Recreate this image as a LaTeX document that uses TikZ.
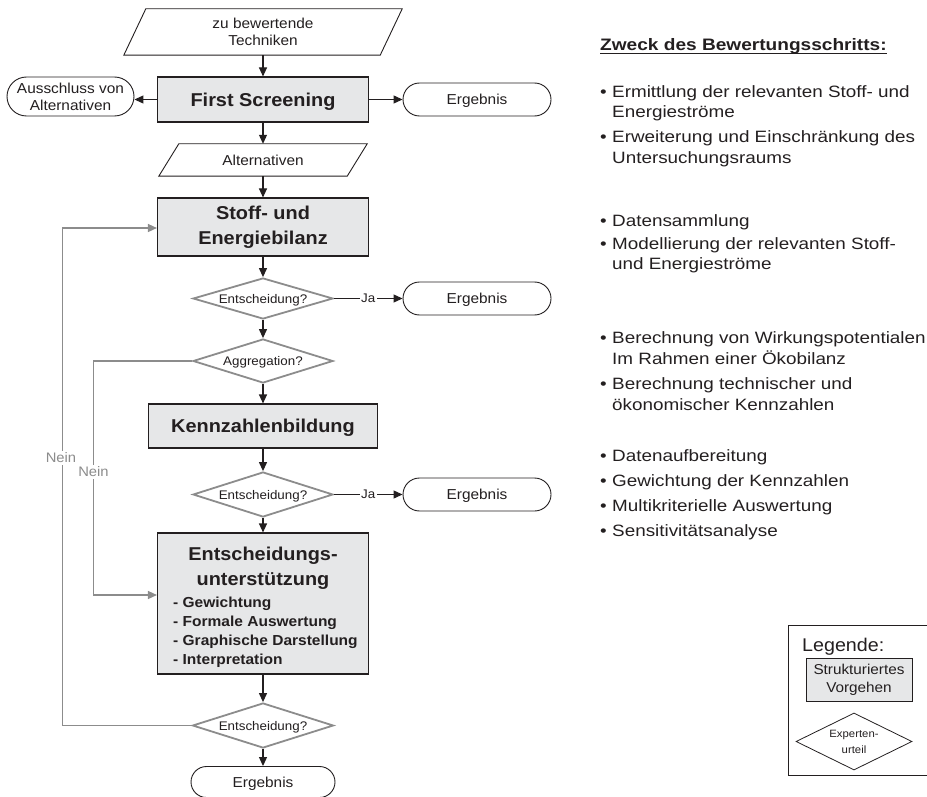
\documentclass[tikz,border=0pt]{standalone}
\usepackage{fontspec}
\setmainfont{Liberation Sans}[FakeStretch=1.07]
\newfontfamily\rtfont{Liberation Sans}[FakeStretch=1.15]
\usetikzlibrary{arrows.meta,shapes.geometric}
\definecolor{boxgray}{HTML}{E6E7E8}
\definecolor{linegray}{HTML}{8C8C8C}
\definecolor{txt}{HTML}{231F20}
\newcommand{\blt}{\makebox[12pt][l]{•}}
\begin{document}
\begin{tikzpicture}[x=1pt,y=-1pt,
  every node/.style={text=txt, inner sep=0pt},
  proc/.style={draw=txt, line width=1.1pt, fill=boxgray, font=\fontsize{18.6}{25}\selectfont\bfseries, align=center},
  term/.style={draw=txt, line width=0.9pt, fill=white, font=\fontsize{14.4}{17}\selectfont},
  erg/.style={term, rounded corners=16.5pt, minimum width=148pt, minimum height=33pt, text height=10.3pt, text depth=0pt},
  dec/.style={diamond, aspect=3.4, draw=linegray, line width=1.8pt, fill=white, minimum width=140pt, font=\fontsize{12.5}{14}\selectfont, text height=9pt, text depth=0pt},
  io/.style={font=\fontsize{14.4}{16.5}\selectfont},
  iopath/.style={draw=txt, line width=0.9pt},
  arr/.style={draw=txt, line width=1.1pt, -{Triangle[length=9pt,width=8pt]}},
  garr/.style={draw=linegray, line width=1.4pt, -{Triangle[length=9pt,width=8pt]}},
  lab/.style={fill=white, font=\fontsize{12.5}{14}\selectfont, inner sep=1.5pt},
  nein/.style={fill=white, text=linegray, font=\fontsize{13.8}{15}\selectfont, inner sep=1.5pt},
  rt/.style={anchor=base west, font=\rtfont\fontsize{16.4}{20}\selectfont},
  entl/.style={anchor=base west, font=\fontsize{14.5}{19}\selectfont\bfseries},
  entt/.style={anchor=base, font=\fontsize{18.6}{25}\selectfont\bfseries},
]
\useasboundingbox (0,0) rectangle (927,797);

% --- main column ---
\node[io, align=center, minimum width=256pt, minimum height=46pt] (tech) at (263,32) {zu bewertende\\Techniken};
\draw[iopath] ([xshift=-11pt]tech.south west) -- ([xshift=-11pt]tech.south east) -- ([xshift=11pt]tech.north east) -- ([xshift=11pt]tech.north west) -- cycle;

\node[proc, minimum width=211pt, minimum height=45pt, text height=13.3pt, text depth=0pt] (fs) at (263,99.5) {First Screening};
\node[term, align=center, rounded corners=19.5pt, minimum width=127pt, minimum height=39pt] (aus) at (70.5,96.5) {Ausschluss von\\Alternativen};
\node[erg] (e1) at (477,99.5) {Ergebnis};

\node[io, minimum width=188pt, minimum height=32pt, text height=10.3pt, text depth=0pt] (alt) at (263,160) {Alternativen};
\draw[iopath] ([xshift=-10pt]alt.south west) -- ([xshift=-10pt]alt.south east) -- ([xshift=10pt]alt.north east) -- ([xshift=10pt]alt.north west) -- cycle;

\node[proc, minimum width=211pt, minimum height=58pt] (stoff) at (263,227) {Stoff- und\\Energiebilanz};
\node[dec, minimum height=41pt] (d1) at (263,298.5) {Entscheidung?};
\node[erg] (e2) at (477,298.5) {Ergebnis};
\node[dec, minimum height=44pt] (agg) at (263,361) {Aggregation?};
\node[proc, minimum width=229pt, minimum height=44pt, text height=13.3pt, text depth=0pt] (kenn) at (263,426) {Kennzahlenbildung};
\node[dec, minimum height=45pt] (d2) at (263,494.5) {Entscheidung?};
\node[erg] (e3) at (477,494.5) {Ergebnis};

\node[proc, minimum width=211pt, minimum height=141pt] (ent) at (263,603.5) {};
\node[entt] (ent-t1) at (263,560.5) {Entscheidungs-};
\node[entt] (ent-t2) at (263,585.5) {unterstützung};
\node[entl] (ent-1) at (173,607) {- Gewichtung};
\node[entl] (ent-2) at (173,626) {- Formale Auswertung};
\node[entl] (ent-3) at (173,645) {- Graphische Darstellung};
\node[entl] (ent-4) at (173,664) {- Interpretation};

\node[dec, minimum width=141pt, minimum height=45pt] (d3) at (263,725.5) {Entscheidung?};
\node[erg, minimum width=144pt, minimum height=31pt, rounded corners=15.5pt] (e4) at (263,782) {Ergebnis};

% --- black connectors ---
\draw[arr] (tech.south) -- (fs.north);
\draw[arr] (fs.west) -- (aus.east |- fs.west);
\draw[arr] (fs.east) -- (e1.west);
\draw[arr] (fs.south) -- (alt.north);
\draw[arr] (alt.south) -- (stoff.north);
\draw[arr] (stoff.south) -- (d1.north);
\draw[arr] (d1.east) -- node[lab] (ja1) {Ja} (e2.west);
\draw[arr] (d1.south) -- (agg.north);
\draw[arr] (agg.south) -- (kenn.north);
\draw[arr] (kenn.south) -- (d2.north);
\draw[arr] (d2.east) -- node[lab] (ja2) {Ja} (e3.west);
\draw[arr] (d2.south) -- (ent.north);
\draw[arr] (ent.south) -- (d3.north);
\draw[arr] (d3.south) -- (e4.north);

% --- gray feedback connectors ---
\coordinate (g1) at (93.5,595);
\coordinate (g2) at (62.5,228);
\draw[garr] (agg.west) -| (g1) -- (g1 -| ent.west);
\draw[garr] (d3.west) -| (g2) -- (g2 -| stoff.west);
\node[nein] (n1) at (93.5,472) {Nein};
\node[nein] (n2) at (61,458) {Nein};

% --- right text ---
\node[anchor=base west, font=\rtfont\fontsize{16.6}{20}\selectfont\bfseries] (title) at (600,51) {Zweck des Bewertungsschritts:};
\draw[txt, line width=1.2pt] ([yshift=-2.8pt]title.base west) -- ([yshift=-2.8pt]title.base east);

\node[rt] (r1a) at (600,98) {\blt Ermittlung der relevanten Stoff- und};
\node[rt] (r1b) at (612,118) {Energieströme};
\node[rt] (r2a) at (600,143) {\blt Erweiterung und Einschränkung des};
\node[rt] (r2b) at (612,164) {Untersuchungsraums};
\node[rt] (r3) at (600,226) {\blt Datensammlung};
\node[rt] (r4a) at (600,249) {\blt Modellierung der relevanten Stoff-};
\node[rt] (r4b) at (612,269) {und Energieströme};
\node[rt] (r5a) at (600,343) {\blt Berechnung von Wirkungspotentialen};
\node[rt] (r5b) at (612,364) {Im Rahmen einer Ökobilanz};
\node[rt] (r6a) at (600,389) {\blt Berechnung technischer und};
\node[rt] (r6b) at (612,410) {ökonomischer Kennzahlen};
\node[rt] (r7) at (600,461) {\blt Datenaufbereitung};
\node[rt] (r8) at (600,486) {\blt Gewichtung der Kennzahlen};
\node[rt] (r9) at (600,511) {\blt Multikriterielle Auswertung};
\node[rt] (r10) at (600,536) {\blt Sensitivitätsanalyse};

% --- legend ---
\node[draw=txt, line width=0.9pt, minimum width=142pt, minimum height=150pt] (leg) at (859,700) {};
\node[anchor=base west, font=\fontsize{18.4}{20}\selectfont] (legt) at (802,651.5) {Legende:};
\node[draw=txt, line width=0.9pt, fill=boxgray, align=center, minimum width=106pt, minimum height=43pt, font=\fontsize{14.3}{18}\selectfont] (legp) at (859,679.5) {Strukturiertes\\Vorgehen};
\node[diamond, aspect=2, draw=txt, line width=0.8pt, fill=white, align=center, minimum width=116pt, minimum height=57pt, font=\fontsize{10.6}{16}\selectfont] (legd) at (854,741.5) {Experten-\\urteil};
\end{tikzpicture}
\end{document}
